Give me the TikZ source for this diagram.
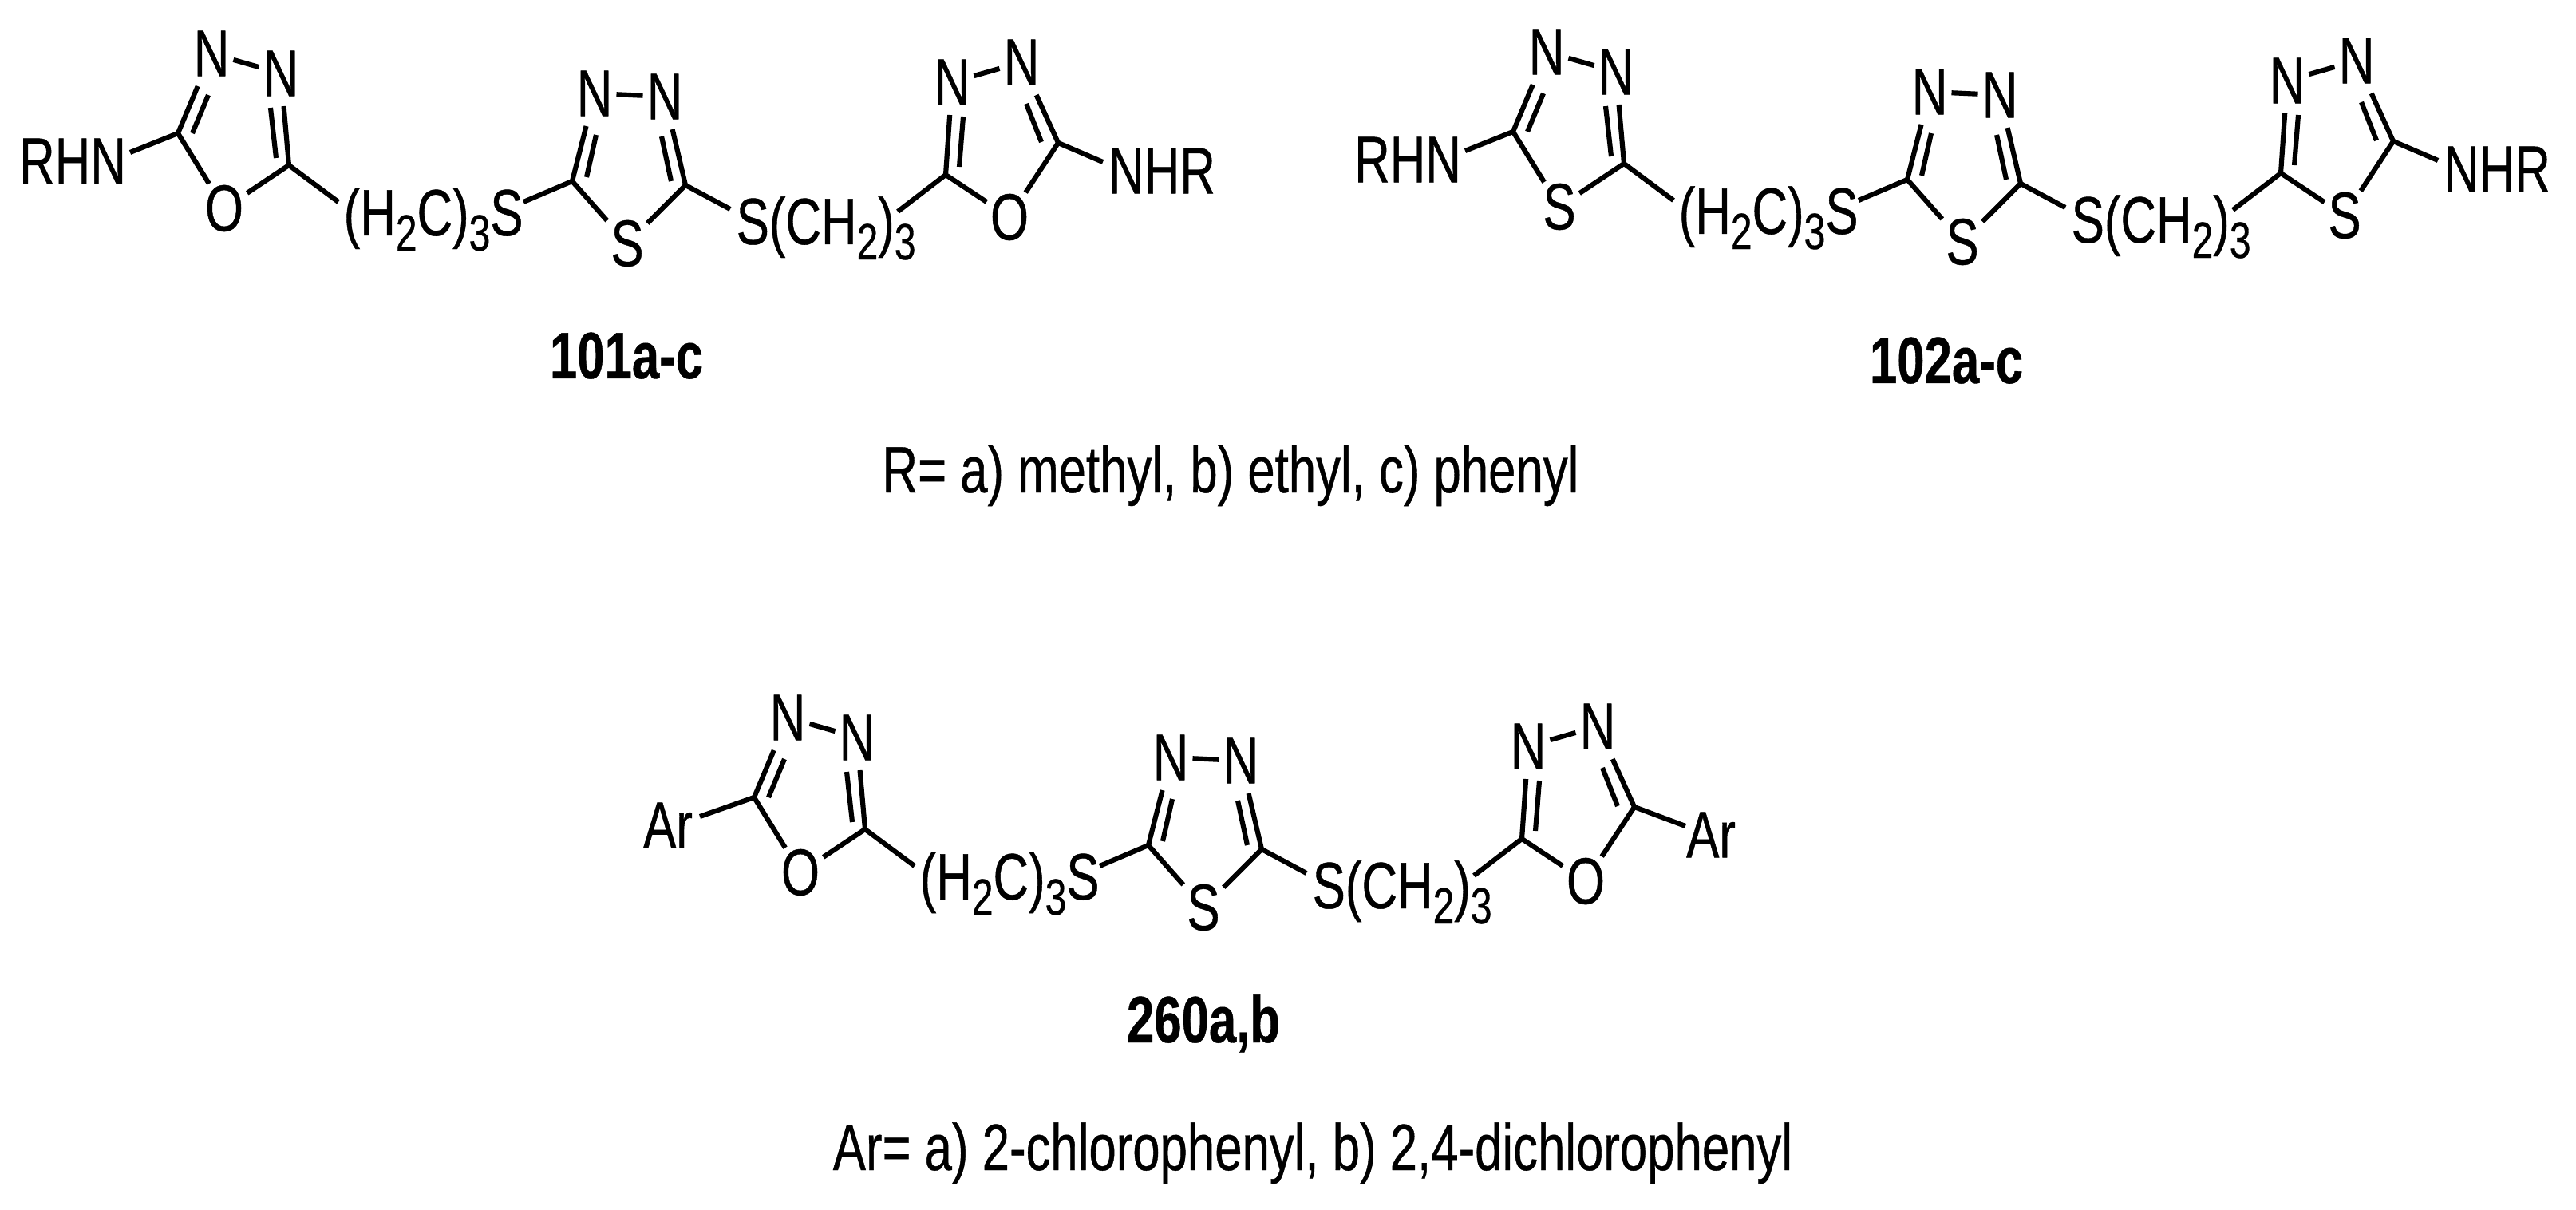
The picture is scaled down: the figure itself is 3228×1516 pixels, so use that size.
\documentclass[tikz,border=0pt]{standalone}
\usepackage{fontspec}
\setmainfont[FakeStretch=0.75,FakeBold=0.5]{Liberation Sans}
\newcommand{\lowr}[1]{\raisebox{-0.19cm}{\fontsize{18.2pt}{19pt}\selectfont #1}}
\begin{document}
\begin{tikzpicture}[x=0.01cm,y=-0.01cm,
  every node/.style={font=\fontsize{23.4pt}{28pt}\selectfont,inner sep=0pt},
  bond/.style={line width=1.75pt},
  atom/.style={inner xsep=0.045cm,inner ysep=0.12cm},
  ringx/.style={inner xsep=0.04cm,inner ysep=0.01cm},
  title/.style={anchor=base,font=\fontsize{23.4pt}{28pt}\selectfont\bfseries}]
  \useasboundingbox (0,0) rectangle (3228,1516);
  \foreach \mol/\het/\ox/\oy/\lgr/\rgr/\lx/\rx/\lex/\rex in {
    a/O/0/0/RHN/NHR/91/1456/163/1382,
    b/S/1673/-2/RHN/NHR/91/1456/163/1382,
    c/O/722/832/Ar/Ar/115/1422/155/1390}{
    \begin{scope}[shift={(\ox,\oy)}]
        %left ring
        \node[atom] (\mol n1) at (265,67) {N};
        \node[atom] (\mol n2) at (352,92) {N};
        \node[ringx] (\mol x1) at (281,261) {\het};
        \coordinate (\mol c1) at (223,167);
        \coordinate (\mol c2) at (362,207);
        \node (\mol gl) at (\lx,202) {\lgr};
        \coordinate (\mol el) at (\lex,191);
        \draw[bond] (\mol n1) -- (\mol c1) -- (\mol x1) -- (\mol c2) -- (\mol n2);
        \draw[bond] (\mol n1) -- (\mol n2);
        \draw[bond] (\mol c1) -- (\mol el);
        \coordinate (\mol i1) at (241,167);
        \coordinate (\mol i2) at (261,119);
        \coordinate (\mol i3) at (339,135);
        \coordinate (\mol i4) at (346,198);
        \draw[bond] (\mol i1) -- (\mol i2);
        \draw[bond] (\mol i3) -- (\mol i4);
        %left chain
        \node[anchor=base west] (\mol ch1) at (430,295) {(H\lowr{2}C)\lowr{3}S};
        \coordinate (\mol e1) at (424,253);
        \coordinate (\mol e2) at (656,253);
        \draw[bond] (\mol c2) -- (\mol e1);
        %middle ring
        \node[atom] (\mol n3) at (745,117) {N};
        \node[atom] (\mol n4) at (833,121) {N};
        \node[ringx] (\mol s0) at (786,305) {S};
        \coordinate (\mol c3) at (717,227);
        \coordinate (\mol c4) at (859,232);
        \draw[bond] (\mol e2) -- (\mol c3) -- (\mol s0) -- (\mol c4);
        \draw[bond] (\mol n3) -- (\mol c3);
        \draw[bond] (\mol n4) -- (\mol c4);
        \draw[bond] (\mol n3) -- (\mol n4);
        \coordinate (\mol i5) at (735,222);
        \coordinate (\mol i6) at (747,169);
        \coordinate (\mol i7) at (829,171);
        \coordinate (\mol i8) at (841,227);
        \draw[bond] (\mol i5) -- (\mol i6);
        \draw[bond] (\mol i7) -- (\mol i8);
        %right chain
        \node[anchor=base west] (\mol ch2) at (922,306) {S(CH\lowr{2})\lowr{3}};
        \coordinate (\mol e3) at (915,262);
        \coordinate (\mol e4) at (1125,265);
        \draw[bond] (\mol c4) -- (\mol e3);
        %right ring
        \node[atom] (\mol n5) at (1193,103) {N};
        \node[atom] (\mol n6) at (1280,78) {N};
        \node[ringx] (\mol x2) at (1265,272) {\het};
        \coordinate (\mol c5) at (1185,219);
        \coordinate (\mol c6) at (1326,179);
        \node (\mol gr) at (\rx,214) {\rgr};
        \coordinate (\mol er) at (\rex,203);
        \draw[bond] (\mol n5) -- (\mol c5) -- (\mol x2) -- (\mol c6) -- (\mol n6);
        \draw[bond] (\mol n5) -- (\mol n6);
        \draw[bond] (\mol c5) -- (\mol e4);
        \draw[bond] (\mol c6) -- (\mol er);
        \coordinate (\mol i9) at (1202,209);
        \coordinate (\mol i10) at (1207,146);
        \coordinate (\mol i11) at (1286,130);
        \coordinate (\mol i12) at (1305,178);
        \draw[bond] (\mol i9) -- (\mol i10);
        \draw[bond] (\mol i11) -- (\mol i12);
    \end{scope}
  }
  %captions
  \node[title] (t101) at (785,474) {101a-c};
  \node[title] (t102) at (2439,480) {102a-c};
  \node[title] (t260) at (1508,1306) {260a,b};
  \node[anchor=base] (rlist) at (1542,617) {R= a) methyl, b) ethyl, c) phenyl};
  \node[anchor=base] (arlist) at (1645,1466) {Ar= a) 2-chlorophenyl, b) 2,4-dichlorophenyl};
\end{tikzpicture}
\end{document}
